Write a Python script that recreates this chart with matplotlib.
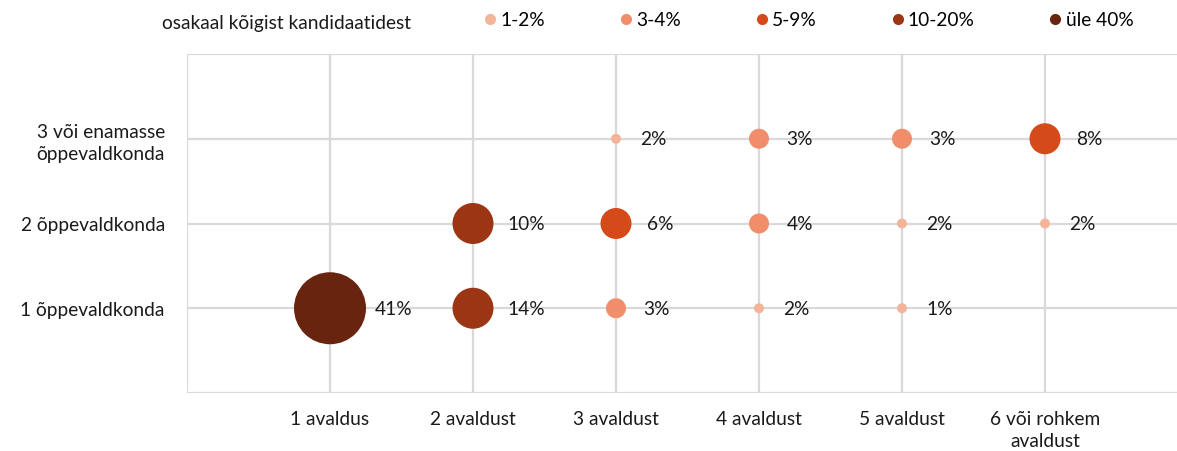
import matplotlib.pyplot as plt
from matplotlib.lines import Line2D

plt.rcParams['font.family'] = ['Lato', 'DejaVu Sans']

# data
x_labels = ["1 avaldus", "2 avaldust", "3 avaldust", "4 avaldust", "5 avaldust", "6 või rohkem\navaldust"]
y_labels = ["1 õppevaldkonda", "2 õppevaldkonda", "3 või enamasse\nõppevaldkonda"]

# (applications, fields, share %)
apps = [1, 2, 3, 4, 5,   2, 3, 4, 5, 6,   3, 4, 5, 6]
fields = [1, 1, 1, 1, 1,   2, 2, 2, 2, 2,   3, 3, 3, 3]
share = [41, 14, 3, 2, 1,   10, 6, 4, 2, 2,   2, 3, 3, 8]

groups = ["1-2%", "3-4%", "5-9%", "10-20%", "üle 40%"]
group_colors = ["#F4B49A", "#F08E6B", "#D44A18", "#9C3514", "#68240E"]
group_diam = [10, 20, 31, 41, 72]  # bubble diameter in px


def group_of(v):
    if v <= 2:
        return 0
    if v <= 4:
        return 1
    if v <= 9:
        return 2
    if v <= 20:
        return 3
    return 4


W, H = 1177, 452
FS = 13.8
fig = plt.figure(figsize=(W / 100, H / 100), dpi=100)
ax = fig.add_axes([187 / W, 1 - 394 / H, (W - 187) / W, (394 - 55) / H])

ax.set_xlim(0, (W - 187) / 143)
ax.set_ylim(0, 4)

grid_c = "#D9D9D9"
for i in range(1, 7):
    ax.axvline(i, color=grid_c, lw=1.6, zorder=0)
for j in range(0, 5):
    ax.axhline(j, color=grid_c, lw=1.6, zorder=0)

for s in ax.spines.values():
    s.set_visible(False)
ax.axvline(0, color=grid_c, lw=1.6, zorder=0)

pt = 72 / 100  # px -> points
for xa, yf, v in zip(apps, fields, share):
    g = group_of(v)
    d = group_diam[g]
    ax.scatter(xa, yf, s=(d * pt) ** 2, color=group_colors[g], edgecolors="none", zorder=3)
    off = (21 + 0.33 * d) * pt
    ax.annotate(f"{v}%", (xa, yf), xytext=(off, 0), textcoords="offset points",
                ha="left", va="center", fontsize=FS, color="#1a1a1a")

ax.set_xticks(range(1, 7))
ax.set_xticklabels(x_labels, fontsize=FS, color="#1a1a1a", linespacing=1.35)
ax.set_yticks([1, 2, 3])
ax.set_yticklabels(y_labels, fontsize=FS, color="#1a1a1a", linespacing=1.35)
ax.tick_params(length=0, pad=0)
ax.tick_params(axis="x", pad=12)
ax.tick_params(axis="y", pad=16)

# legend
fig.text(162 / W, 1 - 24 / H, "osakaal kõigist kandidaatidest", fontsize=FS,
         ha="left", va="center", color="#1a1a1a")
handles = [Line2D([], [], marker="o", ls="none", markersize=8, color=c, markeredgewidth=0)
           for c in group_colors]
fig.legend(handles, groups, loc="center left", bbox_to_anchor=(485 / W, 1 - 21 / H),
           ncol=5, frameon=False, fontsize=FS, handlelength=0.55, handletextpad=0.25,
           columnspacing=3.95, borderpad=0, borderaxespad=0)

fig.savefig("out.png", dpi=100)
